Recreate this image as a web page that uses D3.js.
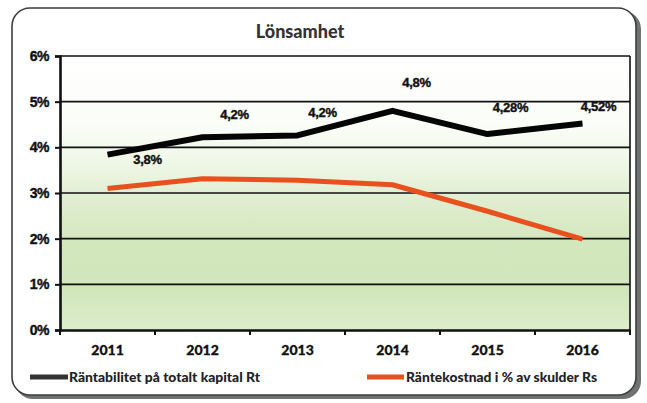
<!DOCTYPE html>
<html>
<head>
<meta charset="utf-8">
<script src="https://cdn.jsdelivr.net/npm/d3@7"></script>
<style>
  html, body { margin: 0; padding: 0; background: #fff; }
  svg { display: block; }
</style>
</head>
<body>
<svg id="chart" width="647" height="403"></svg>
<script>
const title = "Lönsamhet";
const years = ["2011", "2012", "2013", "2014", "2015", "2016"];
const rtValues = [3.84, 4.22, 4.26, 4.80, 4.29, 4.52];
const rsValues = [3.10, 3.31, 3.28, 3.18, 2.60, 1.99];
const rtLabels = ["3,8%", "4,2%", "4,2%", "4,8%", "4,28%", "4,52%"];
const yTicks = [0, 1, 2, 3, 4, 5, 6];
const seriesNames = ["Räntabilitet på totalt kapital Rt", "Räntekostnad i % av skulder Rs"];

// layout (not data)
const labelDx = [40, 32, 25, 24, 23, 16];
const labelDy = [5, -23, -23, -28, -27, -17];

const svg = d3.select("#chart");
const pL = 60, pR = 630, pT = 56, pB = 330;

// frame with shadow
svg.append("rect").attr("x", 15).attr("y", 11).attr("width", 626).attr("height", 388)
  .attr("rx", 18).attr("fill", "#6f7270");
svg.append("rect").attr("x", 12).attr("y", 8).attr("width", 624).attr("height", 387)
  .attr("rx", 18).attr("fill", "#fff").attr("stroke", "#3c3f3c").attr("stroke-width", 1.6);

const defs = svg.append("defs");
const grad = defs.append("linearGradient").attr("id", "bg").attr("x1", 0).attr("y1", 0).attr("x2", 0).attr("y2", 1);
[[0, "#ffffff"], [0.25, "#fbfdf8"], [0.4, "#eef6e5"], [0.5, "#e2efd3"], [0.68, "#d3e7bd"], [0.85, "#d1e6ba"], [1, "#dcedca"]]
  .forEach(([o, c]) => grad.append("stop").attr("offset", o).attr("stop-color", c));

const x = d3.scaleBand().domain(years).range([pL, pR]).padding(0);
const y = d3.scaleLinear().domain([0, 6]).range([pB, pT]);
const cx = d => x(d) + x.bandwidth() / 2;

svg.append("rect").attr("x", pL).attr("y", pT).attr("width", pR - pL).attr("height", pB - pT)
  .attr("fill", "url(#bg)");

// gridlines
svg.append("g").selectAll("line").data(yTicks.filter(t => t > 0)).join("line")
  .attr("x1", pL).attr("x2", pR).attr("y1", d => y(d)).attr("y2", d => y(d))
  .attr("stroke", "#111").attr("stroke-width", 1.6);
// right border
svg.append("line").attr("x1", pR).attr("x2", pR).attr("y1", pT).attr("y2", pB)
  .attr("stroke", "#111").attr("stroke-width", 1.6);

// y axis
const yAxis = svg.append("g").attr("transform", `translate(${pL},0)`)
  .call(d3.axisLeft(y).tickValues(yTicks).tickFormat(d => d + "%").tickSize(5).tickPadding(6));
yAxis.select(".domain").attr("stroke", "#111").attr("stroke-width", 2.6);
yAxis.selectAll(".tick line").attr("stroke", "#111").attr("stroke-width", 2);
yAxis.selectAll("text").attr("font-family", "Liberation Sans, Arial, sans-serif")
  .attr("font-weight", "bold").attr("font-size", 14).attr("fill", "#111").attr("letter-spacing", -0.5)
  .attr("stroke", "#111").attr("stroke-width", 0.4);

// x axis
const xAxis = svg.append("g").attr("transform", `translate(0,${pB})`)
  .call(d3.axisBottom(x).tickSize(0).tickPadding(15));
xAxis.select(".domain").attr("stroke", "#111").attr("stroke-width", 2.6);
xAxis.selectAll("text").attr("font-family", "Lato, sans-serif")
  .attr("font-weight", 900).attr("font-size", 14).attr("fill", "#111")
  .attr("stroke", "#111").attr("stroke-width", 0.3);
svg.append("g").selectAll("line").data(years.map(d => x(d)).concat([pR])).join("line")
  .attr("x1", d => d).attr("x2", d => d).attr("y1", pB).attr("y2", pB + 5)
  .attr("stroke", "#111").attr("stroke-width", 2);

// lines
const line = vals => d3.line().x((d, i) => cx(years[i])).y(d => y(d))(vals);
svg.append("path").attr("d", line(rsValues)).attr("fill", "none")
  .attr("stroke", "#e8501e").attr("stroke-width", 5).attr("stroke-linejoin", "round");
svg.append("path").attr("d", line(rtValues)).attr("fill", "none")
  .attr("stroke", "#050505").attr("stroke-width", 6).attr("stroke-linejoin", "round");

// data labels
svg.append("g").selectAll("text").data(rtValues).join("text")
  .attr("x", (d, i) => cx(years[i]) + labelDx[i])
  .attr("y", (d, i) => y(d) + labelDy[i])
  .attr("text-anchor", "middle").attr("dominant-baseline", "central")
  .attr("font-family", "Liberation Sans, Arial, sans-serif").attr("font-weight", "bold")
  .attr("font-size", 13).attr("fill", "#111").attr("letter-spacing", -0.3)
  .attr("stroke", "#111").attr("stroke-width", 0.4)
  .text((d, i) => rtLabels[i]);

// title
svg.append("text").attr("x", 300).attr("y", 31).attr("text-anchor", "middle").attr("dominant-baseline", "central")
  .attr("font-family", "Lato, sans-serif").attr("font-weight", 900).attr("font-size", 18)
  .attr("fill", "#333").text(title);

// legend
const legend = [
  { name: seriesNames[0], color: "#333", x0: 30, x1: 68, tx: 69 },
  { name: seriesNames[1], color: "#e8501e", x0: 367, x1: 404, tx: 406 }
];
const lg = svg.append("g");
legend.forEach(l => {
  lg.append("line").attr("x1", l.x0).attr("x2", l.x1).attr("y1", 377).attr("y2", 377)
    .attr("stroke", l.color).attr("stroke-width", 5);
  lg.append("text").attr("x", l.tx).attr("y", 377).attr("dominant-baseline", "central")
    .attr("font-family", "Lato, sans-serif").attr("font-weight", 900).attr("font-size", 13)
    .attr("fill", "#222").attr("textLength", 191).attr("lengthAdjust", "spacingAndGlyphs").text(l.name);
});
</script>
</body>
</html>
